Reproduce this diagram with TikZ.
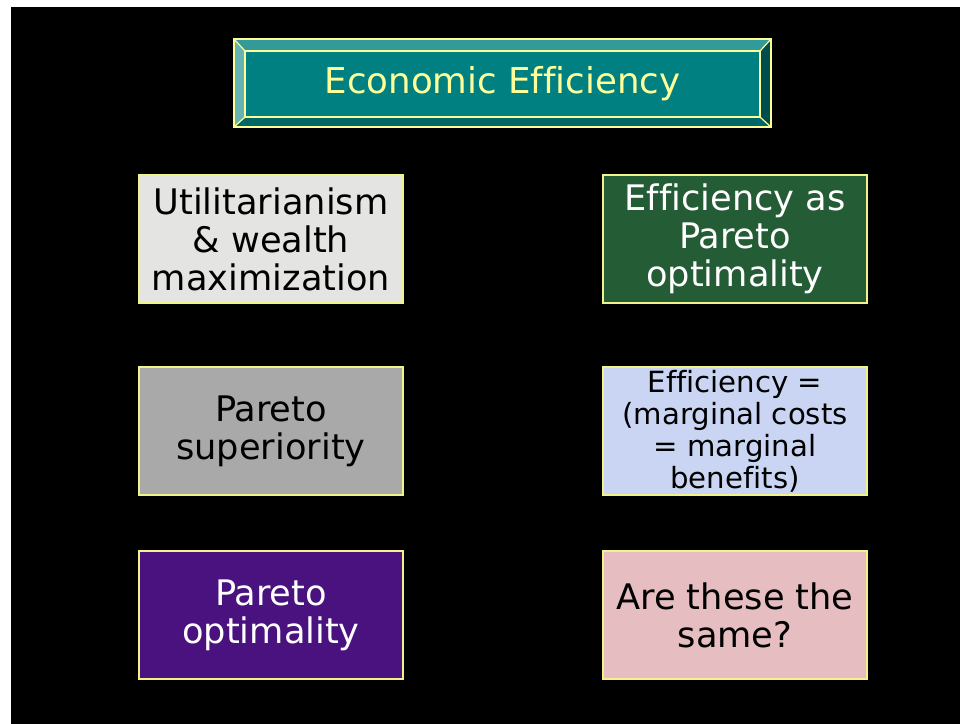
\documentclass[tikz,border=0pt]{standalone}
\usepackage{fontspec}
\newfontfamily\slidefont[Ligatures=NoCommon]{DejaVu Sans}
\definecolor{teal0}{HTML}{008080}
\definecolor{pale}{HTML}{FFFF99}
\definecolor{granite}{HTML}{E4E4E2}
\definecolor{stone}{HTML}{A9A9A9}
\definecolor{marble}{HTML}{245C36}
\definecolor{pastel}{HTML}{C9D5F2}
\definecolor{violet0}{HTML}{4A127E}
\definecolor{rose}{HTML}{E6BDC0}
\begin{document}
\begin{tikzpicture}[x=0.5pt,y=-0.5pt,
    tile/.style={draw=pale!90!olive,line width=0.6pt,minimum width=132pt,minimum height=64pt,
        inner sep=0pt,align=center,font=\slidefont\fontsize{17.6}{19}\selectfont},
    small/.style={font=\slidefont\fontsize{14.6}{16}\selectfont}]
    \useasboundingbox (0,0) rectangle (960,724);
    \fill[white] (0,0) rectangle (960,724);
    \fill[black] (11,7) rectangle (960,724);
    % title bevel
    \fill[teal0!80!white] (234,39)--(771,39)--(760,51)--(245,51)--cycle;
    \fill[teal0!60!white] (234,39)--(245,51)--(245,117)--(234,127)--cycle;
    \fill[teal0!80!black] (234,127)--(245,117)--(760,117)--(771,127)--cycle;
    \fill[teal0!60!black] (771,39)--(771,127)--(760,117)--(760,51)--cycle;
    \node[draw=pale,line width=0.6pt,fill=teal0,minimum width=257.5pt,minimum height=33pt,inner sep=0pt,
        text=pale,font=\slidefont\fontsize{17.8}{19}\selectfont] (title) at (502.5,84) {Economic Efficiency};
    \draw[pale,line width=0.6pt] (234,39) rectangle (771,127);
    \draw[pale,line width=0.6pt] (234,39)--(title.north west) (771,39)--(title.north east)
        (234,127)--(title.south west) (771,127)--(title.south east);
    % left column
    \node[tile,fill=granite] (util) at (271,239) {Utilitarianism\\\& wealth\\maximization};
    \node[tile,fill=stone] (sup) at (271,431) {Pareto\\superiority};
    \node[tile,fill=violet0,text=white] (opt) at (271,615) {Pareto\\optimality};
    % right column
    \node[tile,fill=marble,text=white] (eff) at (735,239) {Efficiency as\\Pareto\\optimality};
    \node[tile,fill=pastel,small] (marg) at (735,431) {Efficiency =\\(marginal costs\\= marginal\\benefits)};
    \node[tile,fill=rose] (same) at (735,615) {Are these the\\same?};
\end{tikzpicture}
\end{document}
